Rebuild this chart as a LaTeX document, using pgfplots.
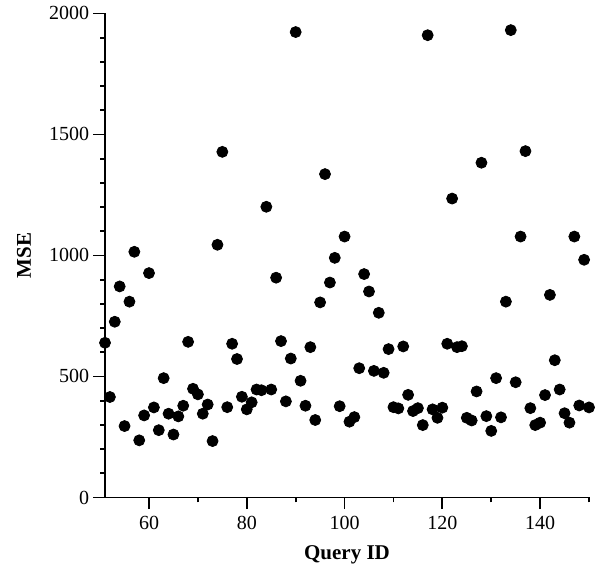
\documentclass[border=0pt]{standalone}
\usepackage{fontspec}
\setmainfont{Liberation Serif}
\usepackage{pgfplots}
\pgfplotsset{compat=1.18}
\begin{document}
\begin{tikzpicture}
\begin{axis}[
  name=ax,
  width=242pt, height=242pt, scale only axis,
  xmin=51, xmax=150, ymin=0, ymax=2000,
  axis x line*=bottom, axis y line*=left,
  axis line style={line width=0.9pt, black},
  xtick={60,80,100,120,140},
  minor xtick={70,90,110,130,150},
  ytick={0,500,1000,1500,2000},
  minor ytick={100,200,300,400,600,700,800,900,1100,1200,1300,1400,1600,1700,1800,1900},
  tick align=outside,
  major tick length=5.85pt, minor tick length=2.5pt,
  tick style={line width=0.9pt, black},
  /pgf/number format/assume math mode=true,
  /pgf/number format/set thousands separator={},
  ticklabel style={font=\fontsize{10}{12}\selectfont},
  yticklabel style={xshift=1.5pt},
  xlabel={Query ID}, ylabel={MSE},
  label style={font=\fontsize{10.5}{12}\selectfont\bfseries},
  xlabel style={at={(axis description cs:0.5,-0.0839)}, anchor=north},
  ylabel style={at={(axis description cs:-0.1674,0.5)}, anchor=center},
  clip=false,
]
\addplot[only marks, mark=*, mark size=2.75pt, black] coordinates {
(51,639) (52,415) (53,726) (54,872) (55,295) (56,809) (57,1015) (58,236) (59,339) (60,927)
(61,372) (62,278) (63,493) (64,346) (65,260) (66,335) (67,379) (68,643) (69,449) (70,426)
(71,346) (72,384) (73,233) (74,1044) (75,1428) (76,373) (77,635) (78,572) (79,416) (80,364)
(81,393) (82,446) (83,443) (84,1201) (85,446) (86,908) (87,646) (88,397) (89,574) (90,1923)
(91,482) (92,379) (93,621) (94,320) (95,806) (96,1336) (97,888) (98,990) (99,377) (100,1078)
(101,313) (102,332) (103,534) (104,923) (105,851) (106,523) (107,763) (108,515) (109,613) (110,373)
(111,368) (112,624) (113,424) (114,357) (115,369) (116,299) (117,1910) (118,364) (119,329) (120,371)
(121,635) (122,1235) (123,621) (124,625) (125,329) (126,318) (127,438) (128,1383) (129,336) (130,275)
(131,493) (132,331) (133,809) (134,1931) (135,476) (136,1078) (137,1431) (138,369) (139,299) (140,309)
(141,423) (142,837) (143,567) (144,446) (145,348) (146,309) (147,1078) (148,380) (149,982) (150,372)
};
\end{axis}
\path (ax.south west) ++(-52.5pt,-35.5pt) coordinate (bbA);
\path (ax.north east) ++(3pt,5pt) coordinate (bbB);
\path[use as bounding box] (bbA) rectangle (bbB);
\end{tikzpicture}
\end{document}
